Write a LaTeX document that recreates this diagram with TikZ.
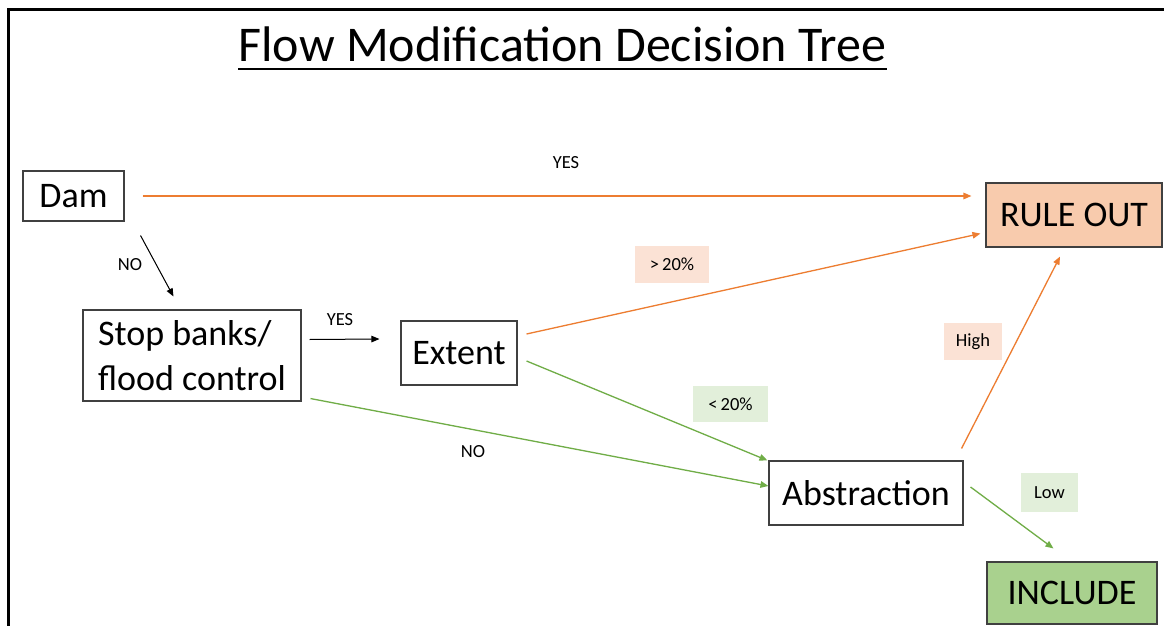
\documentclass[tikz,border=0pt]{standalone}
\usepackage{fontspec}
\setmainfont{Carlito}
\usetikzlibrary{arrows.meta,calc}
\definecolor{orangeln}{HTML}{ED7D31}
\definecolor{greenln}{HTML}{70AD47}
\definecolor{rulefill}{HTML}{F8CBAD}
\definecolor{incfill}{HTML}{A9D18E}
\definecolor{peachlbl}{HTML}{FBE2D5}
\definecolor{greenlbl}{HTML}{E2EFDA}
\definecolor{boxline}{HTML}{404040}
\begin{document}
\begin{tikzpicture}[x=1pt,y=-1pt,
  box/.style={draw=boxline,line width=1.1pt,inner sep=0pt,align=left,
    font=\fontsize{36}{45}\selectfont},
  lbl/.style={inner sep=0pt,font=\fontsize{18.5}{22}\selectfont},
  arr/.style={line width=1pt,-{Triangle[length=8pt,width=6.5pt]}},
  orangearr/.style={arr,draw=orangeln,fill=orangeln,line width=1.3pt},
  greenarr/.style={arr,draw=greenln,fill=greenln,line width=1.3pt},
  blackarr/.style={arr,draw=black,fill=black}]
\useasboundingbox (0,0) rectangle (1164,626);
\fill[white] (0,0) rectangle (1164,626);
% frame
\draw[line width=3pt] (8,626) -- (8,10) -- (1164,10);
% title
\node[inner sep=0pt,anchor=base,font=\fontsize{50}{60}\selectfont] (title) at (562.5,62) {Flow Modification Decision Tree};
\draw[line width=2.6pt] ($(title.base west)+(0,7)$) -- ($(title.base east)+(0,7)$);
% nodes
\node[box,minimum width=101,minimum height=50] (dam) at (73.5,196) {Dam};
\node[box,minimum width=218,minimum height=91] (stop) at (192,355.5) {Stop banks/\\flood control};
\node[box,minimum width=116,minimum height=64] (extent) at (459,353) {Extent};
\node[box,minimum width=194,minimum height=64] (abs) at (866,493) {Abstraction};
\node[box,fill=rulefill,minimum width=176,minimum height=64] (rule) at (1074,215) {RULE OUT};
\node[box,fill=incfill,minimum width=170,minimum height=62] (inc) at (1072,593) {INCLUDE};
% labels
\node[lbl] (yes1) at (566,163) {YES};
\node[lbl] (no1) at (130,265) {NO};
\node[lbl] (yes2) at (340,320) {YES};
\node[lbl] (no2) at (473,452) {NO};
\node[lbl,fill=peachlbl,minimum width=74,minimum height=37] (gt) at (672,264.5) {>\,20\%};
\node[lbl,fill=greenlbl,minimum width=75,minimum height=36] (lt) at (730.5,404) {<\,20\%};
\node[lbl,fill=peachlbl,minimum width=58,minimum height=37] (high) at (973,341.5) {High};
\node[lbl,fill=greenlbl,minimum width=57,minimum height=39] (low) at (1049.5,492.5) {Low};
% connectors
\draw[orangearr] ($(dam.east)+(18,0)$) -- ($(dam.east -| rule.west)+(-14,0)$);
\draw[blackarr] ($(dam.south east)+(16,14)$) -- ($(stop.north west)+(91,-13)$);
\draw[blackarr] ($(stop.east)+(8,-16)$) -- ($(extent.west)+(-21,-14)$);
\draw[greenarr] ($(stop.south east)+(9,-3)$) -- ($(abs.west)+(0,-7)$);
\draw[orangearr] ($(extent.east)+(9,-19)$) -- ($(rule.south west)+(-5,-14)$);
\draw[greenarr] ($(extent.east)+(9,8)$) -- ($(abs.north west)+(-1,0)$);
\draw[orangearr] ($(abs.north east)+(-2,-12)$) -- ($(rule.south)+(-14,9)$);
\draw[greenarr] ($(abs.east)+(7,-6)$) -- ($(inc.north west)+(67,-13)$);
\end{tikzpicture}
\end{document}
